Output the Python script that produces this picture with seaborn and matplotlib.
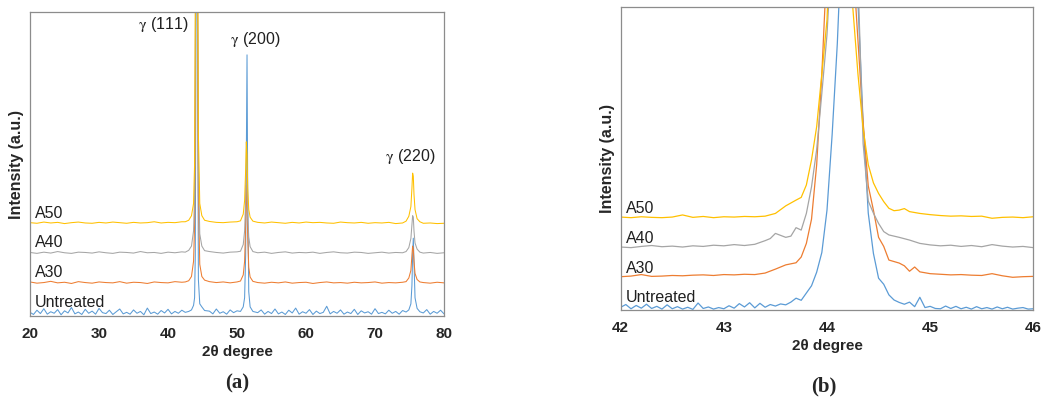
import numpy as np
import seaborn as sns
from matplotlib import pyplot as plt

# ---- panel (a): full 2theta scan ----
a_flat1 = list(range(20, 43))            # 20..42
a_peak1 = [42.5, 43.0, 43.4, 43.7, 43.85, 43.95, 44.05, 44.15, 44.25, 44.4, 44.6, 44.9, 45.3]
a_flat2 = [46, 47, 48, 49, 50]
a_peak2 = [50.5, 50.9, 51.1, 51.25, 51.35, 51.45, 51.55, 51.7, 51.9, 52.3]
a_flat3 = list(range(53, 75))            # 53..74
a_peak3 = [74.5, 74.9, 75.2, 75.35, 75.45, 75.55, 75.65, 75.8, 76.1, 76.5]
a_flat4 = [77, 78, 79, 80]
a_x = a_flat1 + a_peak1 + a_flat2 + a_peak2 + a_flat3 + a_peak3 + a_flat4

# untreated scan is noisier, read at half-degree steps between the peaks
a_x_untreated = ([20 + 0.5 * i for i in range(45)] + a_peak1
                 + [46 + 0.5 * i for i in range(9)] + a_peak2
                 + [53 + 0.5 * i for i in range(43)] + a_peak3
                 + [77 + 0.5 * i for i in range(7)])
a_untreated = ([1.2, 0.5, 1.9, 0.8, 2.4, 0.6, 1.4, 0.9, 2.1, 0.4, 1.7, 1.0, 2.8, 0.7, 1.3, 0.5, 2.2, 0.9, 1.6, 0.6,
                2.5, 1.1, 0.8, 1.9, 0.5, 1.4, 2.3, 0.7, 1.2, 0.6, 2.0, 0.9, 1.5, 0.4, 2.6, 0.8, 1.3, 0.6, 1.8, 1.0,
                2.2, 0.7, 1.5, 0.9, 1.9]
               + [1.2, 1.5, 2.0, 3.5, 6, 20, 90, 160, 110, 12, 4, 3.0, 1.8]
               + [1.6, 0.7, 2.3, 0.9, 1.4, 0.6, 2.0, 1.1, 1.7]
               + [1.5, 3, 6, 20, 55, 85.9, 40, 8, 3, 1.5]
               + [1.1, 2.0, 0.6, 1.5, 0.8, 2.3, 0.7, 1.3, 0.5, 1.9, 1.0, 2.6, 0.6, 1.4, 0.9, 2.1, 0.5, 1.6, 0.8, 1.2,
                  3.2, 0.7, 1.5, 0.9, 2.0, 0.6, 1.3, 0.8, 2.2, 0.5, 1.7, 1.0, 1.4, 0.6, 2.4, 0.8, 1.2, 0.7, 1.9, 0.9,
                  1.5, 0.6, 1.8]
               + [1.3, 2, 4, 10, 20, 25.6, 18, 6, 2.5, 1.4]
               + [1.0, 2.1, 0.6, 1.5, 0.9, 1.9, 0.7])
a_a30 = ([11.2, 10.8, 11.0, 11.4, 10.9, 11.1, 10.7, 11.3, 11.0, 10.8, 11.2, 11.0, 10.9, 11.3, 10.8, 11.1, 11.0, 10.7, 11.2, 11.0, 10.9, 11.3, 11.1]
         + [11.2, 11.6, 13, 18, 30, 70, 150, 170, 120, 40, 17, 13, 11.8]
         + [11.3, 11.0, 11.2, 10.9, 11.2]
         + [11.5, 13.5, 18, 30, 43, 38, 26, 16, 12.8, 11.4]
         + [11.0, 10.8, 11.1, 10.9, 11.2, 10.8, 11.0, 11.1, 10.7, 11.0, 11.2, 10.9, 11.0, 10.8, 11.1, 10.9, 11.0, 11.2, 10.8, 11.0, 10.9, 11.1]
         + [11.3, 12.5, 15, 20, 23, 22, 18, 14, 12, 11.2]
         + [11.0, 10.8, 11.1, 10.9])
a_a40 = ([20.9, 20.6, 21.0, 20.7, 21.2, 20.8, 20.6, 21.0, 20.9, 20.7, 21.1, 20.8, 20.6, 21.0, 20.9, 20.7, 21.2, 20.8, 20.9, 20.6, 21.0, 20.8, 21.1]
         + [21, 21.6, 23, 28, 40, 80, 160, 170, 130, 50, 27, 23, 21.5]
         + [21.2, 20.9, 20.7, 21.0, 21.1]
         + [21.3, 23.5, 28, 38, 48, 44, 33, 26, 22.8, 21.2]
         + [20.8, 21.0, 20.6, 20.9, 21.1, 20.7, 20.9, 20.8, 21.0, 20.6, 20.9, 21.1, 20.8, 20.7, 21.0, 20.9, 20.6, 20.8, 21.0, 20.7, 20.9, 20.8]
         + [21.2, 22.5, 25.5, 30, 33, 32.5, 28, 24, 22, 21]
         + [20.7, 20.9, 20.6, 20.8])
a_a50 = ([30.7, 30.5, 30.9, 30.6, 30.8, 30.4, 30.7, 30.9, 30.6, 30.5, 30.8, 30.6, 30.9, 30.7, 30.5, 30.8, 30.6, 30.7, 31.0, 30.6, 30.8, 30.7, 31.0]
         + [31, 31.5, 33, 37, 50, 100, 180, 200, 150, 60, 37, 33, 31.5]
         + [31.1, 30.8, 30.7, 30.9, 31.0]
         + [31.3, 33.5, 38, 48, 57.3, 53, 42, 35, 32.5, 31.2]
         + [30.8, 30.6, 30.9, 30.7, 30.5, 30.8, 30.6, 30.9, 30.7, 30.8, 30.6, 30.5, 30.9, 30.7, 30.6, 30.8, 30.5, 30.7, 30.6, 30.8, 30.4, 30.6]
         + [31.2, 32.8, 36, 42, 47, 46, 40, 35, 32, 31]
         + [30.5, 30.6, 30.4, 30.5])

# ---- panel (b): zoom on the (111) peak ----
b_x_untreated = ([round(42.0 + 0.05 * i, 2) for i in range(31)]
                 + [43.55, 43.6, 43.65, 43.7, 43.75, 43.8, 43.85, 43.9, 43.95, 44.0, 44.05, 44.1, 44.2,
                    44.3, 44.35, 44.4, 44.45, 44.5, 44.55, 44.6, 44.65, 44.7]
                 + [round(44.75 + 0.05 * i, 2) for i in range(26)])
b_untreated = ([0.9, 1.8, 0.4, 1.5, 0.6, 1.9, 0.5, 1.2, 0.3, 1.7, 0.4, 1.1, 0.3, 0.9, 0.2, 2.3, 0.5, 1.0, 0.3, 0.8,
                0.4, 1.4, 0.6, 2.1, 1.0, 2.4, 0.7, 2.2, 0.9, 1.8, 1.3]
               + [2.0, 1.7, 2.6, 3.9, 3.2, 5.6, 8.0, 12.5, 19.0, 33, 58, 88, 170,
                  102, 62, 32, 18.7, 10.5, 8.5, 5.0, 3.3, 2.5]
               + [1.9, 2.6, 1.1, 4.2, 0.8, 1.2, 0.5, 0.4, 1.3, 0.5, 1.2, 0.4, 0.9, 0.3, 1.1, 0.4, 0.8, 0.3,
                  1.0, 0.4, 0.9, 0.3, 0.6, 0.8, 0.3, 0.4])

b_flat_left = [42.0, 42.1, 42.2, 42.3, 42.4, 42.5, 42.6, 42.7, 42.8, 42.9, 43.0, 43.1, 43.2, 43.3]
b_flat_right = [45.0, 45.1, 45.2, 45.3, 45.4, 45.5, 45.6, 45.7, 45.8, 45.9, 46.0]

b_x_a30 = (b_flat_left
           + [43.4, 43.5, 43.6, 43.7, 43.75, 43.8, 43.85, 43.9, 43.95, 44.0, 44.15, 44.28, 44.35, 44.4,
              44.45, 44.5, 44.55, 44.6, 44.7, 44.75, 44.8, 44.85, 44.9, 44.95]
           + b_flat_right)
b_a30 = ([11.0, 11.2, 11.7, 11.1, 11.2, 11.4, 11.3, 11.5, 11.6, 11.4, 11.7, 11.6, 11.8, 11.7]
         + [12.2, 13.5, 14.9, 15.6, 17.5, 22, 30, 48, 78, 115, 180, 100, 62, 41,
            33, 24, 21, 16.5, 15.5, 14.6, 12.8, 14.2, 12.6, 12.3]
         + [12.0, 11.8, 11.6, 11.7, 11.5, 11.4, 12.0, 11.3, 10.8, 11.0, 11.1])

b_x_a40 = (b_flat_left
           + [43.4, 43.45, 43.5, 43.6, 43.65, 43.7, 43.75, 43.8, 43.85, 43.9, 43.95, 44.0, 44.15, 44.3,
              44.35, 44.4, 44.45, 44.5, 44.55, 44.6, 44.7, 44.8, 44.9]
           + b_flat_right)
b_a40 = ([20.8, 20.6, 21.0, 21.3, 20.9, 21.1, 20.8, 21.2, 21.0, 21.4, 21.2, 21.6, 21.3, 21.7]
         + [22.9, 23.6, 25.3, 24.0, 24.4, 27.2, 26.4, 31.9, 40.7, 53, 71.6, 91, 185, 110,
            55, 36, 32, 28.6, 25.9, 24.8, 24.0, 23.1, 22.0]
         + [21.5, 21.2, 21.4, 21.0, 21.3, 20.9, 21.6, 21.1, 20.8, 21.0, 20.6])

b_x_a50 = (b_flat_left
           + [43.4, 43.5, 43.6, 43.7, 43.75, 43.8, 43.85, 43.9, 43.95, 44.0, 44.12, 44.25, 44.3, 44.35,
              44.4, 44.45, 44.5, 44.55, 44.6, 44.65, 44.7, 44.75, 44.8, 44.9]
           + b_flat_right)
b_a50 = ([30.7, 30.5, 30.8, 30.6, 30.5, 30.7, 31.4, 30.6, 30.9, 30.5, 30.8, 30.7, 30.9, 30.8]
         + [31.0, 31.9, 34.4, 36.3, 37.2, 41.3, 49.6, 60.6, 78, 95.8, 200, 100, 78, 60,
            48, 42, 38.5, 35.8, 33.6, 32.8, 33.0, 33.5, 32.5, 31.9]
         + [31.5, 31.2, 31.0, 31.1, 30.9, 31.0, 30.3, 30.6, 30.7, 30.5, 30.8])

names = ["Untreated", "A30", "A40", "A50"]
colors = ["#5B9BD5", "#ED7D31", "#A5A5A5", "#FFC000"]
peak_labels = [r"$\mathrm{\gamma}$ (111)", r"$\mathrm{\gamma}$ (200)", r"$\mathrm{\gamma}$ (220)"]

sns.set_theme(style="white")
plt.rcParams['font.family'] = ['Liberation Sans', 'DejaVu Sans']
plt.rcParams['mathtext.fontset'] = 'stix'

fig = plt.figure(figsize=(10.43, 4.03), dpi=100)
ax_a = fig.add_axes([0.0288, 0.2159, 0.3969, 0.7543])
ax_b = fig.add_axes([0.5951, 0.2308, 0.3956, 0.7511])

a_series = [(a_x_untreated, a_untreated), (a_x, a_a30), (a_x, a_a40), (a_x, a_a50)]
for (xs, ys), c in zip(a_series, colors):
    sns.lineplot(x=xs, y=ys, ax=ax_a, color=c, lw=0.75)

b_series = [(b_x_untreated, b_untreated), (b_x_a30, b_a30), (b_x_a40, b_a40), (b_x_a50, b_a50)]
for (xs, ys), c in zip(b_series, colors):
    sns.lineplot(x=xs, y=ys, ax=ax_b, color=c, lw=0.9)

# sample names above each baseline
for ax, label_y in [(ax_a, [2.0, 11.7, 21.6, 31.4]), (ax_b, [1.5, 11.3, 21.2, 31.1])]:
    for name, yy in zip(names, label_y):
        ax.text(0.012, yy, name, transform=ax.get_yaxis_transform(), fontsize=11.5,
                color="#202020", ha="left", va="bottom")

# peak annotations
for lbl, (px, py) in zip(peak_labels, [(39.3, 96.0), (52.6, 90.8), (75.1, 52.5)]):
    ax_a.text(px, py, lbl, fontsize=11.5, color="#202020", ha="center", va="center")

for ax, lims, ticks in [(ax_a, (20, 80), [20, 30, 40, 50, 60, 70, 80]),
                        (ax_b, (42, 46), [42, 43, 44, 45, 46])]:
    ax.set_xlim(*lims)
    ax.set_ylim(0, 100)
    ax.set_xticks(ticks)
    ax.set_yticks([])
    ax.tick_params(axis="x", direction="out", length=4, width=0.8, color="#808080",
                   labelsize=11, pad=4)
    for lab in ax.get_xticklabels():
        lab.set_fontweight("semibold")
    for s in ax.spines.values():
        s.set_color("#8c8c8c")
        s.set_linewidth(0.9)
    ax.set_xlabel("2θ degree", fontsize=11, fontweight="semibold", labelpad=3)
    ax.set_ylabel("Intensity (a.u.)", fontsize=11.5, fontweight="semibold", labelpad=4)

fig.text(0.2272, 0.048, "(a)", ha="center", va="center", fontsize=15, fontweight="bold",
         family="Liberation Serif")
fig.text(0.7895, 0.042, "(b)", ha="center", va="center", fontsize=15, fontweight="bold",
         family="Liberation Serif")

fig.savefig("out.png", dpi=100)
